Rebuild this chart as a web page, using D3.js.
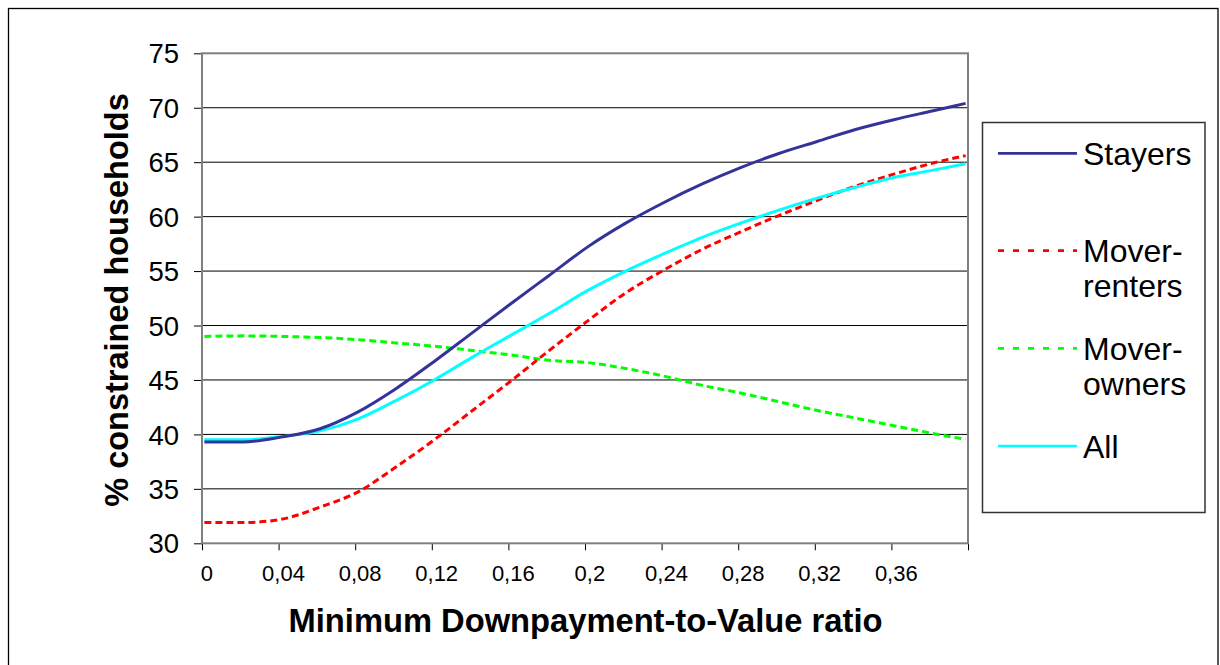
<!DOCTYPE html>
<html>
<head>
<meta charset="utf-8">
<script src="https://cdn.jsdelivr.net/npm/d3@7"></script>
<style>
  html, body { margin: 0; padding: 0; background: #fff; }
  svg { display: block; font-family: "Liberation Sans", Arial, sans-serif; }
</style>
</head>
<body>
<svg id="chart" width="1220" height="665"></svg>
<script>
// ---- data ----
const dtv = [0, 0.02, 0.04, 0.06, 0.08, 0.10, 0.12, 0.14, 0.16, 0.18, 0.20,
             0.22, 0.24, 0.26, 0.28, 0.30, 0.32, 0.34, 0.36, 0.38, 0.3975];
const stayers = [39.3, 39.3, 39.75, 40.5, 42.05, 44.2, 46.7, 49.35, 52.0, 54.6, 57.2,
                 59.4, 61.3, 63.0, 64.5, 65.8, 66.9, 68.0, 68.9, 69.7, 70.4];
const moverRenters = [31.9, 31.9, 32.2, 33.3, 34.7, 37.0, 39.5, 42.2, 44.9, 47.7, 50.4,
                      53.0, 55.1, 57.0, 58.6, 60.1, 61.5, 62.8, 63.9, 64.9, 65.6];
const moverOwners = [49.0, 49.05, 49.0, 48.9, 48.7, 48.4, 48.1, 47.7, 47.3, 46.8, 46.6,
                     46.05, 45.35, 44.5, 43.8, 43.0, 42.2, 41.5, 40.8, 40.1, 39.55];
const all = [39.5, 39.5, 39.8, 40.3, 41.4, 43.1, 45.0, 47.1, 49.1, 51.1, 53.2,
             55.0, 56.6, 58.1, 59.4, 60.6, 61.7, 62.7, 63.6, 64.25, 64.85];
const xTicks = [0, 0.04, 0.08, 0.12, 0.16, 0.2, 0.24, 0.28, 0.32, 0.36];
const xTickLabels = ["0", "0,04", "0,08", "0,12", "0,16", "0,2", "0,24", "0,28", "0,32", "0,36"];
const xEdges = [0, 0.04, 0.08, 0.12, 0.16, 0.2, 0.24, 0.28, 0.32, 0.36, 0.40];
const yTicks = [30, 35, 40, 45, 50, 55, 60, 65, 70, 75];
const seriesNames = ["Stayers", "Mover-renters", "Mover-owners", "All"];
const legendLabels = [["Stayers"], ["Mover-", "renters"], ["Mover-", "owners"], ["All"]];

// ---- layout ----
const svg = d3.select("#chart");
const L = 202, R = 968, T = 53.3, B = 543.3;
const half = 0.00125; // half category width
const x = d3.scaleLinear().domain([-half, 0.4 - half]).range([L, R]);
const y = d3.scaleLinear().domain([30, 75]).range([B, T]);

// outer chart border
svg.append("rect").attr("x", 8.5).attr("y", 8.5).attr("width", 1209.5).attr("height", 700)
  .attr("fill", "#fff").attr("stroke", "#000").attr("stroke-width", 1.3);

// gridlines
svg.append("g").selectAll("line").data(yTicks.filter(v => v > 30 && v < 75)).join("line")
  .attr("x1", L).attr("x2", R).attr("y1", d => y(d)).attr("y2", d => y(d))
  .attr("stroke", "#000").attr("stroke-width", 1);

// y axis
const yAxis = svg.append("g").attr("transform", `translate(${L},0)`)
  .call(d3.axisLeft(y).tickValues(yTicks).tickSize(8).tickPadding(15).tickFormat(d3.format("d")));
yAxis.select(".domain").remove();
yAxis.selectAll(".tick line").attr("stroke", "#000");
yAxis.selectAll(".tick text").attr("font-size", 27.5).attr("fill", "#000")
  .attr("font-family", "Liberation Sans, Arial, sans-serif").attr("dy", "0.35em");

// x axis: tick marks at category boundaries
const xAxisTicks = svg.append("g").attr("transform", `translate(0,${B})`)
  .call(d3.axisBottom(x).tickValues(xEdges.map(v => v - half)).tickSize(7).tickFormat(""));
xAxisTicks.select(".domain").remove();
xAxisTicks.selectAll(".tick line").attr("stroke", "#000");

// x axis: labels at category centres
const xAxisLabels = svg.append("g").attr("transform", `translate(2,${B})`)
  .call(d3.axisBottom(x).tickValues(xTicks).tickSize(0).tickPadding(20)
    .tickFormat((d, i) => xTickLabels[i]));
xAxisLabels.select(".domain").remove();
xAxisLabels.selectAll(".tick text").attr("font-size", 22).attr("fill", "#000")
  .attr("font-family", "Liberation Sans, Arial, sans-serif").attr("dy", 0)
  .attr("y", 38);

// plot area frame (gray)
svg.append("rect").attr("x", L).attr("y", T).attr("width", R - L).attr("height", B - T)
  .attr("fill", "none").attr("stroke", "#808080").attr("stroke-width", 2);

// series
const series = [
  { name: seriesNames[0], values: stayers, color: "#333399", dash: null },
  { name: seriesNames[1], values: moverRenters, color: "#ff0000", dash: "7,4" },
  { name: seriesNames[2], values: moverOwners, color: "#00ff00", dash: "7,4" },
  { name: seriesNames[3], values: all, color: "#00ffff", dash: null }
];
const line = d3.line().x((d, i) => x(dtv[i])).y(d => y(d)).curve(d3.curveMonotoneX);
const drawOrder = [2, 1, 3, 0];
svg.append("g").selectAll("path").data(drawOrder.map(i => series[i])).join("path")
  .attr("d", s => line(s.values))
  .attr("fill", "none").attr("stroke", s => s.color).attr("stroke-width", 3)
  .attr("stroke-dasharray", s => s.dash);

// axis titles
svg.append("text").attr("x", 585.5).attr("y", 632).attr("text-anchor", "middle")
  .attr("font-size", 32.7).attr("font-weight", "bold").attr("fill", "#000")
  .text("Minimum Downpayment-to-Value ratio");
svg.append("text").attr("transform", "translate(128,300) rotate(-90)").attr("text-anchor", "middle")
  .attr("font-size", 32.5).attr("font-weight", "bold").attr("fill", "#000")
  .text("% constrained households");

// legend
const lg = svg.append("g");
lg.append("rect").attr("x", 982.5).attr("y", 122.5).attr("width", 222.5).attr("height", 390)
  .attr("fill", "#fff").attr("stroke", "#333").attr("stroke-width", 1.5);
const legendY = [153.3, 250.7, 348.3, 446];
series.forEach((s, i) => {
  lg.append("line").attr("x1", 998).attr("x2", 1077).attr("y1", legendY[i]).attr("y2", legendY[i])
    .attr("stroke", s.color).attr("stroke-width", 2.7)
    .attr("stroke-dasharray", s.dash ? "6,9" : null);
  const t = lg.append("text").attr("x", 1083).attr("y", legendY[i] + 11.5)
    .attr("font-size", 32).attr("fill", "#000");
  legendLabels[i].forEach((ln, j) => {
    t.append("tspan").attr("x", 1083).attr("dy", j === 0 ? 0 : 35).text(ln);
  });
});
</script>
</body>
</html>
